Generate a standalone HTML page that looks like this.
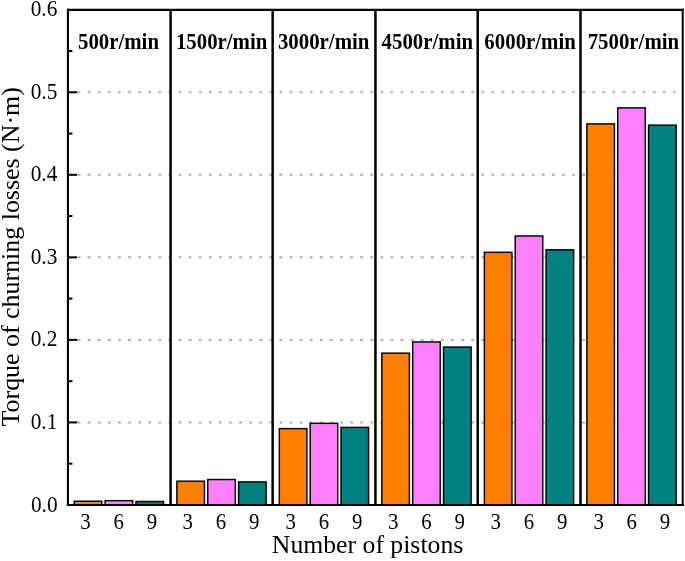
<!DOCTYPE html>
<html><head><meta charset="utf-8"><title>Torque of churning losses</title>
<style>
html,body{margin:0;padding:0;background:#fff}
svg{display:block}
text{font-family:"Liberation Serif",serif;fill:#000}
.t{font-size:22.2px}
.b{font-size:22.3px;font-weight:bold}
.a{font-size:25px}
</style></head><body>
<svg width="685" height="561" viewBox="0 0 685 561">
<rect width="685" height="561" fill="#fff"/>
<g stroke="#b0b0b0" stroke-width="2" stroke-dasharray="2.8 7.29">
<line x1="77.7" y1="422.42" x2="680.7" y2="422.42"/>
<line x1="77.7" y1="339.88" x2="680.7" y2="339.88"/>
<line x1="77.7" y1="257.35" x2="680.7" y2="257.35"/>
<line x1="77.7" y1="174.82" x2="680.7" y2="174.82"/>
<line x1="77.7" y1="92.28" x2="680.7" y2="92.28"/>
</g>
<g stroke="#000" stroke-width="1.45">
<rect x="74.25" y="501.24" width="27.55" height="3.71" fill="#FF8000"/>
<rect x="105.10" y="500.66" width="27.55" height="4.29" fill="#FF80FF"/>
<rect x="135.95" y="501.48" width="27.55" height="3.47" fill="#008080"/>
<rect x="176.90" y="481.18" width="27.55" height="23.77" fill="#FF8000"/>
<rect x="207.75" y="479.53" width="27.55" height="25.42" fill="#FF80FF"/>
<rect x="238.60" y="481.92" width="27.55" height="23.03" fill="#008080"/>
<rect x="279.32" y="428.61" width="27.55" height="76.34" fill="#FF8000"/>
<rect x="310.17" y="423.32" width="27.55" height="81.63" fill="#FF80FF"/>
<rect x="341.02" y="427.37" width="27.55" height="77.58" fill="#008080"/>
<rect x="381.85" y="353.17" width="27.55" height="151.78" fill="#FF8000"/>
<rect x="412.70" y="341.95" width="27.55" height="163.00" fill="#FF80FF"/>
<rect x="443.55" y="347.06" width="27.55" height="157.89" fill="#008080"/>
<rect x="484.38" y="252.32" width="27.55" height="252.63" fill="#FF8000"/>
<rect x="515.23" y="235.97" width="27.55" height="268.98" fill="#FF80FF"/>
<rect x="546.08" y="249.76" width="27.55" height="255.19" fill="#008080"/>
<rect x="586.88" y="123.89" width="27.55" height="381.06" fill="#FF8000"/>
<rect x="617.73" y="107.88" width="27.55" height="397.07" fill="#FF80FF"/>
<rect x="648.58" y="125.13" width="27.55" height="379.82" fill="#008080"/>
</g>
<g stroke="#000" fill="none">
<line x1="170.60" y1="9.75" x2="170.60" y2="504.95" stroke-width="2.5"/>
<line x1="272.65" y1="9.75" x2="272.65" y2="504.95" stroke-width="2.5"/>
<line x1="375.45" y1="9.75" x2="375.45" y2="504.95" stroke-width="2.5"/>
<line x1="477.70" y1="9.75" x2="477.70" y2="504.95" stroke-width="2.5"/>
<line x1="580.50" y1="9.75" x2="580.50" y2="504.95" stroke-width="2.5"/>
<line x1="67.95" y1="504.95" x2="77.2" y2="504.95" stroke-width="2"/>
<line x1="67.95" y1="463.68" x2="72.4" y2="463.68" stroke-width="2"/>
<line x1="67.95" y1="422.42" x2="77.2" y2="422.42" stroke-width="2"/>
<line x1="67.95" y1="381.15" x2="72.4" y2="381.15" stroke-width="2"/>
<line x1="67.95" y1="339.88" x2="77.2" y2="339.88" stroke-width="2"/>
<line x1="67.95" y1="298.62" x2="72.4" y2="298.62" stroke-width="2"/>
<line x1="67.95" y1="257.35" x2="77.2" y2="257.35" stroke-width="2"/>
<line x1="67.95" y1="216.08" x2="72.4" y2="216.08" stroke-width="2"/>
<line x1="67.95" y1="174.82" x2="77.2" y2="174.82" stroke-width="2"/>
<line x1="67.95" y1="133.55" x2="72.4" y2="133.55" stroke-width="2"/>
<line x1="67.95" y1="92.28" x2="77.2" y2="92.28" stroke-width="2"/>
<line x1="67.95" y1="51.02" x2="72.4" y2="51.02" stroke-width="2"/>
<line x1="67.95" y1="8.75" x2="67.95" y2="506.0" stroke-width="2.1"/>
<line x1="682.7" y1="8.75" x2="682.7" y2="506.0" stroke-width="2"/>
<line x1="66.9" y1="9.85" x2="683.7" y2="9.85" stroke-width="2.2"/>
<line x1="66.9" y1="505.0" x2="683.7" y2="505.0" stroke-width="2.0"/>
</g>
<text transform="translate(57.599999999999994 511.55) scale(0.96 1)" text-anchor="end" class="t">0.0</text>
<text transform="translate(57.3 429.02) scale(0.96 1)" text-anchor="end" class="t">0.1</text>
<text transform="translate(57.3 346.48) scale(0.96 1)" text-anchor="end" class="t">0.2</text>
<text transform="translate(57.3 263.95) scale(0.96 1)" text-anchor="end" class="t">0.3</text>
<text transform="translate(57.3 181.42) scale(0.96 1)" text-anchor="end" class="t">0.4</text>
<text transform="translate(57.3 98.88) scale(0.96 1)" text-anchor="end" class="t">0.5</text>
<text transform="translate(57.3 16.35) scale(0.96 1)" text-anchor="end" class="t">0.6</text>
<text transform="translate(85.58 528.8) scale(0.94 1)" text-anchor="middle" class="t">3</text>
<text transform="translate(118.78 528.8) scale(0.94 1)" text-anchor="middle" class="t">6</text>
<text transform="translate(151.98 528.8) scale(0.94 1)" text-anchor="middle" class="t">9</text>
<text transform="translate(187.83 528.8) scale(0.94 1)" text-anchor="middle" class="t">3</text>
<text transform="translate(221.03 528.8) scale(0.94 1)" text-anchor="middle" class="t">6</text>
<text transform="translate(254.22 528.8) scale(0.94 1)" text-anchor="middle" class="t">9</text>
<text transform="translate(290.75 528.8) scale(0.94 1)" text-anchor="middle" class="t">3</text>
<text transform="translate(323.95 528.8) scale(0.94 1)" text-anchor="middle" class="t">6</text>
<text transform="translate(357.15 528.8) scale(0.94 1)" text-anchor="middle" class="t">9</text>
<text transform="translate(393.27 528.8) scale(0.94 1)" text-anchor="middle" class="t">3</text>
<text transform="translate(426.47 528.8) scale(0.94 1)" text-anchor="middle" class="t">6</text>
<text transform="translate(459.67 528.8) scale(0.94 1)" text-anchor="middle" class="t">9</text>
<text transform="translate(495.80 528.8) scale(0.94 1)" text-anchor="middle" class="t">3</text>
<text transform="translate(529.00 528.8) scale(0.94 1)" text-anchor="middle" class="t">6</text>
<text transform="translate(562.20 528.8) scale(0.94 1)" text-anchor="middle" class="t">9</text>
<text transform="translate(598.60 528.8) scale(0.94 1)" text-anchor="middle" class="t">3</text>
<text transform="translate(631.80 528.8) scale(0.94 1)" text-anchor="middle" class="t">6</text>
<text transform="translate(665.00 528.8) scale(0.94 1)" text-anchor="middle" class="t">9</text>
<text transform="translate(118.48 48.85) scale(0.935 1)" text-anchor="middle" class="b">500r/min</text>
<text transform="translate(221.62 48.85) scale(0.935 1)" text-anchor="middle" class="b">1500r/min</text>
<text transform="translate(323.65 48.85) scale(0.935 1)" text-anchor="middle" class="b">3000r/min</text>
<text transform="translate(427.27 48.85) scale(0.935 1)" text-anchor="middle" class="b">4500r/min</text>
<text transform="translate(530.10 48.85) scale(0.935 1)" text-anchor="middle" class="b">6000r/min</text>
<text transform="translate(633.40 48.85) scale(0.935 1)" text-anchor="middle" class="b">7500r/min</text>
<text x="367.55" y="552.8" text-anchor="middle" class="a" style="font-size:26px" textLength="191.4" lengthAdjust="spacingAndGlyphs">Number of pistons</text>
<text transform="translate(19.3 256.8) rotate(-90)" text-anchor="middle" class="a" style="font-size:25.5px" textLength="339.3" lengthAdjust="spacingAndGlyphs">Torque of churning losses (N·m)</text>
</svg>
</body></html>
